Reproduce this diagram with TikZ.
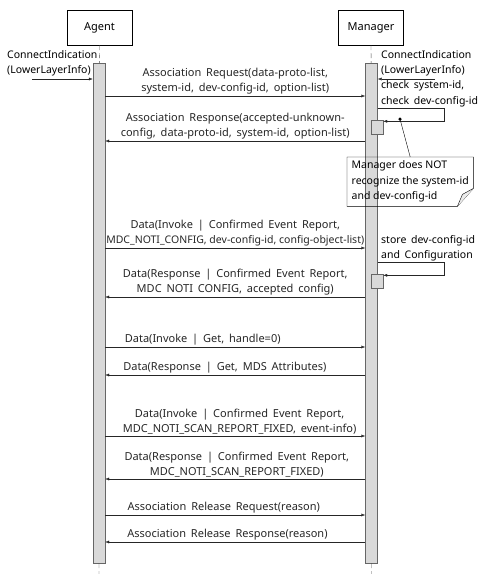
\documentclass[tikz,border=0pt]{standalone}
\usepackage{fontspec}
\setmainfont[WordSpace=1.7]{Noto Sans}
\newfontfamily\tightfont{Noto Sans}
\usetikzlibrary{positioning}
\usetikzlibrary{calc}
\usetikzlibrary{arrows.meta}

\begin{document}
\begin{tikzpicture}[x=1pt, y=-1pt, font=\fontsize{11}{15.5}\selectfont,
    actor/.style={draw, fill=white, minimum width=65, minimum height=35},
    bar/.style={draw=black!60, fill=black!15, minimum width=12, inner sep=0},
    msg/.style={-{Latex[length=4pt, width=3pt]}, black!85},
    lbl/.style={above, align=center, inner sep=1.5pt},
    txt/.style={anchor=west, align=left, inner sep=1pt},
    life/.style={black!70, dash pattern=on 5pt off 3pt}]
    \useasboundingbox (0,0) rectangle (490,574);

    \node[actor] (agent) at (99.5,27.5) {Agent};
    \node[actor] (manager) at (371,27.5) {Manager};
    \node[bar, minimum height=500] (abar) at (99,313) {};
    \node[bar, minimum height=500] (mbar) at (371.5,313) {};
    \coordinate (aend) at (99,574);
    \coordinate (mend) at (371.5,574);
    \draw[life] (agent) -- (abar) (abar) -- (aend);
    \draw[life] (manager) -- (mbar) (mbar) -- (mend);

    \node[txt, font=\tightfont\fontsize{10.5}{15.5}\selectfont] (acon) at (6,63.5) {ConnectIndication\\(LowerLayerInfo)};
    \node[txt, font=\fontsize{10.5}{15.3}\selectfont] (mcon) at (380,78.5) {ConnectIndication\\(LowerLayerInfo)\\check system-id,\\check dev-config-id};
    \coordinate (ain) at (32,79);
    \coordinate (min) at (435,79);
    \draw[msg] (ain) -- (abar.west |- ain);
    \draw[msg] (min) -- (mbar.east |- min);

    \coordinate (m1) at (0,96);
    \coordinate (m2) at (0,141);
    \coordinate (m3) at (0,248);
    \coordinate (m4) at (0,297);
    \coordinate (m5) at (0,347);
    \coordinate (m6) at (0,375);
    \coordinate (m7) at (0,436);
    \coordinate (m8) at (0,479);
    \coordinate (m9) at (0,515);
    \coordinate (m10) at (0,542);

    \draw[msg] (abar.east |- m1) -- node[lbl] {Association Request(data-proto-list,\\system-id, dev-config-id, option-list)} (mbar.west |- m1);
    \node[bar, minimum height=14] (mact1) at (377,127) {};
    \draw[msg] (mbar.east |- 0,108) -- ++(66,0) |- ([yshift=-1.5pt]mact1.north east);
    \draw[msg] (mbar.west |- m2) -- node[lbl] {Association Response(accepted-unknown-\\config, data-proto-id, system-id, option-list)} (abar.east |- m2);

    \node[circle, fill, inner sep=0, minimum size=3.5] (dot) at (400,119) {};
    \node[anchor=north west, align=left, minimum width=126, minimum height=49, inner sep=3, font=\tightfont\fontsize{10.5}{15.5}\selectfont] (note) at (347,157) {Manager does NOT\\recognize the system-id\\and dev-config-id};
    \draw (dot.center) -- (note.north);
    \draw (note.north west) -- (note.north east) -- ($(note.south east)+(0,-18)$) -- ($(note.south east)+(-16,0)$) -- (note.south west) -- cycle;
    \draw[fill=black!8] ($(note.south east)+(0,-18)$) -- ($(note.south east)+(-11,-12)$) -- ($(note.south east)+(-16,0)$);

    \draw[msg] (abar.east |- m3) -- node[lbl] {Data(Invoke | Confirmed Event Report,\\{\tightfont\fontsize{10.5}{15.5}\selectfont MDC\_NOTI\_CONFIG, dev-config-id, config-object-list)}} (mbar.west |- m3);
    \node[txt, font=\fontsize{10.5}{15.3}\selectfont] (mstore) at (380,248.5) {store dev-config-id\\and Configuration};
    \node[bar, minimum height=14] (mact2) at (377,281) {};
    \draw[msg] (mbar.east |- 0,262) -- ++(66,0) |- ([yshift=-1.5pt]mact2.north east);
    \draw[msg] (mbar.west |- m4) -- node[lbl] {Data(Response | Confirmed Event Report,\\MDC NOTI CONFIG, accepted config)} (abar.east |- m4);

    \draw[msg] (abar.east |- m5) -- node[lbl, pos=0.375] {Data(Invoke | Get, handle=0)} (mbar.west |- m5);
    \draw[msg] (mbar.west |- m6) -- node[lbl, pos=0.54] {Data(Response | Get, MDS Attributes)} (abar.east |- m6);
    \draw[msg] (abar.east |- m7) -- node[lbl, pos=0.517] {Data(Invoke | Confirmed Event Report,\\MDC\_NOTI\_SCAN\_REPORT\_FIXED, event-info)} (mbar.west |- m7);
    \draw[msg] (mbar.west |- m8) -- node[lbl, pos=0.494] {Data(Response | Confirmed Event Report,\\MDC\_NOTI\_SCAN\_REPORT\_FIXED)} (abar.east |- m8);
    \draw[msg] (abar.east |- m9) -- node[lbl, pos=0.456] {Association Release Request(reason)} (mbar.west |- m9);
    \draw[msg] (mbar.west |- m10) -- node[lbl, pos=0.53] {Association Release Response(reason)} (abar.east |- m10);
\end{tikzpicture}
\end{document}
